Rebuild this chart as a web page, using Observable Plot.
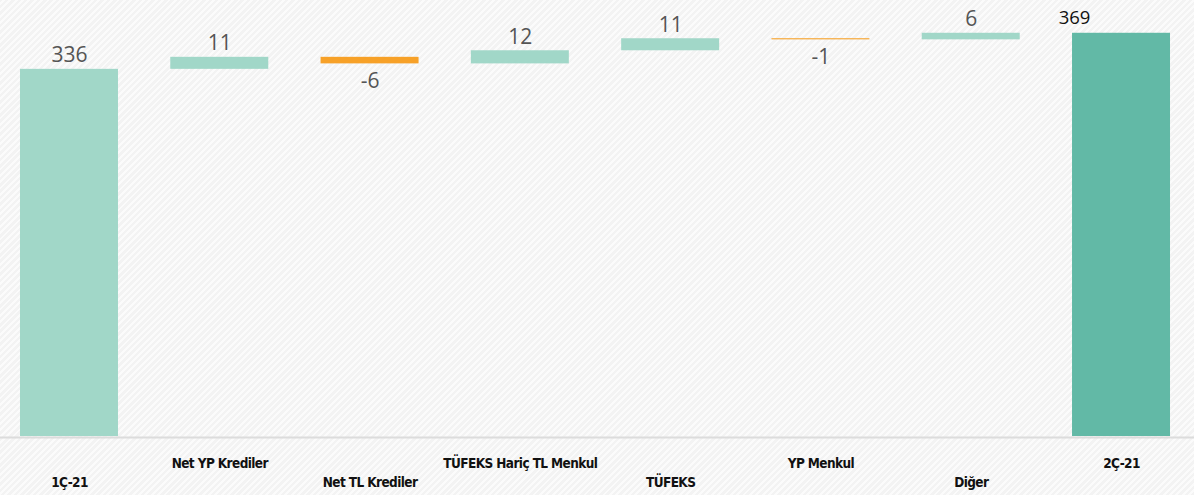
<!DOCTYPE html>
<html>
<head>
<meta charset="utf-8">
<script src="https://cdn.jsdelivr.net/npm/d3@7"></script>
<script src="https://cdn.jsdelivr.net/npm/@observablehq/plot@0.6"></script>
<style>
  html, body { margin: 0; padding: 0; }
  body {
    width: 1194px; height: 495px; overflow: hidden;
    background: repeating-linear-gradient(-45deg, #f3f3f3 0px, #f3f3f3 2.5px, #fbfbfb 2.5px, #fbfbfb 4.5px);
  }
  #chart svg { display: block; background: transparent; }
  #chart svg g[font-weight="bold"] text { letter-spacing: -0.6px; }
</style>
</head>
<body>
<div id="chart"></div>
<script>
const categories = ["1Ç-21", "Net YP Krediler", "Net TL Krediler", "TÜFEKS Hariç TL Menkul", "TÜFEKS", "YP Menkul", "Diğer", "2Ç-21"];
const values = [336, 11, -6, 12, 11, -1, 6, 369];
const kinds = ["total", "delta", "delta", "delta", "delta", "delta", "delta", "total"];
const labelRow = ["low", "high", "low", "high", "low", "high", "low", "high"];

const colorStart = "#a1d7c8";
const colorEnd = "#62b9a6";
const colorUp = "#a1d7c8";
const colorDown = "#f7a128";

let run = 0;
const rows = categories.map((c, i) => {
  let y1, y2;
  if (kinds[i] === "total") { y1 = 0; y2 = values[i]; run = values[i]; }
  else { y1 = run; y2 = run + values[i]; run = y2; }
  const fill = i === categories.length - 1 ? colorEnd : (values[i] < 0 ? colorDown : (i === 0 ? colorStart : colorUp));
  return {cat: c, v: values[i], y1, y2, lo: Math.min(y1, y2), hi: Math.max(y1, y2), fill, row: labelRow[i], idx: i};
});

const last = rows[rows.length - 1];
const normalLabels = rows.filter(d => d !== last);
const catFont = "DejaVu Sans Condensed, Liberation Sans Narrow, sans-serif";

const plot = Plot.plot({
  width: 1194,
  height: 495,
  marginTop: 0,
  marginBottom: 59,
  marginLeft: 0,
  marginRight: 0,
  x: {domain: categories, range: [0, 1190], paddingInner: 0.348, paddingOuter: 0.133, round: false, axis: null},
  y: {domain: [0, 399], axis: null},
  style: {background: "transparent", overflow: "visible"},
  marks: [
    Plot.ruleY([0], {stroke: "#dcdcdc", strokeWidth: 2, dy: 1}),
    Plot.barY(rows, {x: "cat", y1: "y1", y2: "y2", fill: "fill"}),
    Plot.text(normalLabels.filter(d => d.v >= 0), {
      x: "cat", y: "hi", text: d => String(d.v), dy: -7, lineAnchor: "bottom",
      fontFamily: "Open Sans", fontSize: 21, fill: "#555"
    }),
    Plot.text(normalLabels.filter(d => d.v < 0), {
      x: "cat", y: "lo", text: d => String(d.v), dy: 9, lineAnchor: "top",
      fontFamily: "Open Sans", fontSize: 21, fill: "#555"
    }),
    Plot.text([last], {
      x: "cat", y: "hi", text: d => String(d.v), dy: -9, dx: -47, lineAnchor: "bottom",
      fontFamily: "Open Sans", fontSize: 18.5, fill: "#111"
    }),
    Plot.text(rows.filter(d => d.row === "high"), {
      x: "cat", frameAnchor: "bottom", text: "cat", dy: 31, lineAnchor: "bottom",
      fontFamily: catFont, fontWeight: "bold", fontSize: 13.5, fill: "#111"
    }),
    Plot.text(rows.filter(d => d.row === "low"), {
      x: "cat", frameAnchor: "bottom", text: "cat", dy: 50, lineAnchor: "bottom",
      fontFamily: catFont, fontWeight: "bold", fontSize: 13.5, fill: "#111"
    })
  ]
});
document.getElementById("chart").appendChild(plot);
</script>
</body>
</html>
